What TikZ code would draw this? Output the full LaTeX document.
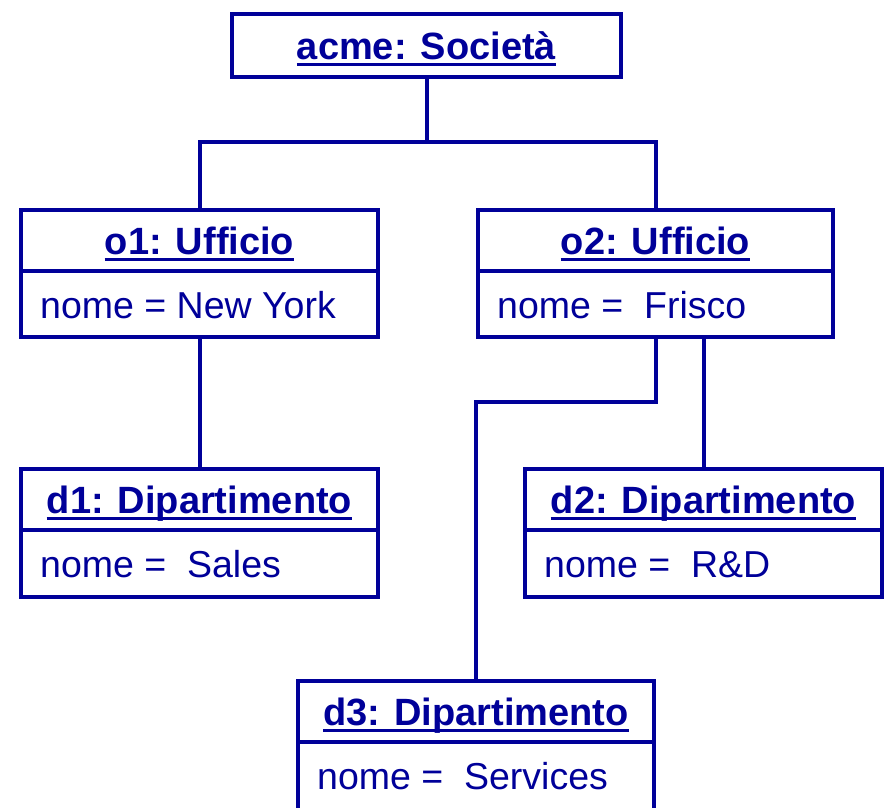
\documentclass[tikz,border=0pt]{standalone}
\usepackage{fontspec}
\setmainfont{Liberation Sans}
\definecolor{uml}{RGB}{0,0,153}
\tikzset{
  objbox/.style={draw=uml, line width=4pt, rectangle, inner sep=0pt},
  ttl/.style={anchor=base, inner sep=0pt, text=uml, font=\fontsize{38}{44}\selectfont\bfseries},
  attr/.style={anchor=base west, inner sep=0pt, text=uml, font=\fontsize{37.5}{44}\selectfont},
  link/.style={draw=uml, line width=4pt},
  uline/.style={draw=uml, line width=3pt},
}
\begin{document}
\begin{tikzpicture}[x=1pt,y=-1pt]
\useasboundingbox (0,0) rectangle (884,807);
\fill[white] (0,0) rectangle (884,807);
\clip (0,0) rectangle (884,807);

% object boxes
\node[objbox, minimum width=389pt, minimum height=63pt] (acme) at (426.5,45.5) {};
\node[objbox, minimum width=357pt, minimum height=127pt] (o1) at (199.5,273.5) {};
\node[objbox, minimum width=355pt, minimum height=127pt] (o2) at (655.5,273.5) {};
\node[objbox, minimum width=357pt, minimum height=128pt] (d1) at (199.5,533) {};
\node[objbox, minimum width=357pt, minimum height=128pt] (d2) at (703.5,533) {};
\node[objbox, minimum width=356pt, minimum height=131pt] (d3) at (476,746.5) {};

% compartment dividers
\foreach \b in {o1,o2,d1,d2,d3}{
  \draw[link] ([yshift=-63pt]\b.north west) -- ([yshift=-63pt]\b.north east);
}

% titles
\node[ttl] (acmet) at ([yshift=-47pt]acme.north) {acme: Società};
\node[ttl] (o1t) at ([yshift=-46pt]o1.north) {o1: Ufficio};
\node[ttl] (o2t) at ([yshift=-46pt]o2.north) {o2: Ufficio};
\node[ttl] (d1t) at ([yshift=-46pt]d1.north) {d1: Dipartimento};
\node[ttl] (d2t) at ([yshift=-46pt]d2.north) {d2: Dipartimento};
\node[ttl] (d3t) at ([yshift=-46pt]d3.north) {d3: Dipartimento};
\foreach \t in {acmet,o1t,o2t,d1t,d2t,d3t}{
  \draw[uline] ([yshift=-5pt]\t.base west) -- ([yshift=-5pt]\t.base east);
}

% attributes
\node[attr] (o1a) at ([xshift=21pt,yshift=-110pt]o1.north west) {nome = New York};
\node[attr] (o2a) at ([xshift=21pt,yshift=-110pt]o2.north west) {nome = \ Frisco};
\node[attr] (d1a) at ([xshift=21pt,yshift=-110pt]d1.north west) {nome = \ Sales};
\node[attr] (d2a) at ([xshift=21pt,yshift=-110pt]d2.north west) {nome = \ R\&D};
\node[attr] (d3a) at ([xshift=21pt,yshift=-110pt]d3.north west) {nome = \ Services};

% connectors
\coordinate (j) at (427,142);
\coordinate (k) at (0,402);
\draw[link] (acme.south) -- (acme.south |- j) -| (o1.north);
\draw[link] (acme.south |- j) -| (o2.north);
\draw[link] (o1.south) -- (d1.north);
\draw[link] (o2.south -| d2.north) -- (d2.north);
\draw[link] (o2.south) -- (o2.south |- k) -| (d3.north);
\end{tikzpicture}
\end{document}
